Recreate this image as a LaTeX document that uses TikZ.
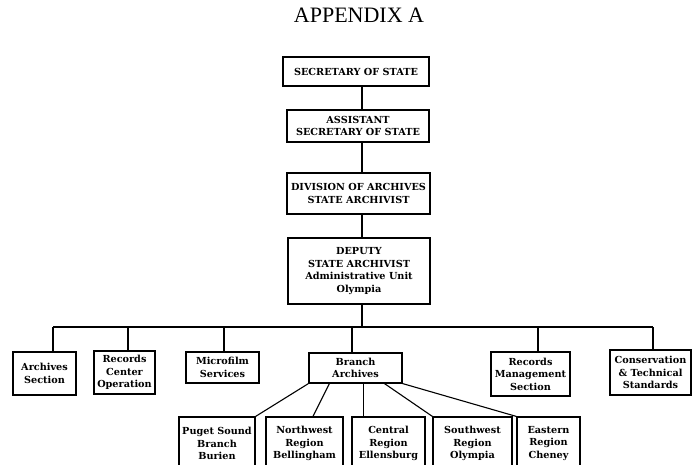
\documentclass[tikz,border=0pt]{standalone}
\usepackage{fontspec}
\setmainfont{DejaVu Serif}
\newfontfamily\titlefont{Liberation Serif}
\begin{document}
\begin{tikzpicture}[x=1pt, y=-1pt,
        orgbox/.style={draw, line width=1.1pt, inner sep=0pt, align=center,
            font=\bfseries\fontsize{9.7}{12.6}\selectfont},
        link/.style={line width=1.1pt}]
    \useasboundingbox (0,0) rectangle (695,464);
    \clip (0,0) rectangle (695,464);

    \node[font=\titlefont\fontsize{22}{26}\selectfont] (title) at (359,15.5) {APPENDIX A};

    \node[orgbox, minimum width=146pt, minimum height=29pt] (sec) at (356,71.5) {SECRETARY OF STATE};
    \node[orgbox, minimum width=142pt, minimum height=32pt] (asst) at (358,126) {ASSISTANT\\SECRETARY OF STATE};
    \node[orgbox, minimum width=143pt, minimum height=41pt] (div) at (358.5,193.5) {DIVISION OF ARCHIVES\\STATE ARCHIVIST};
    \node[orgbox, minimum width=142pt, minimum height=66pt] (deputy) at (359,271) {DEPUTY\\STATE ARCHIVIST\\Administrative Unit\\Olympia};

    \node[orgbox, minimum width=63pt, minimum height=43pt] (arch) at (44.5,373.5) {Archives\\Section};
    \node[orgbox, minimum width=61pt, minimum height=43pt] (rcenter) at (124.5,372.5) {Records\\Center\\Operation};
    \node[orgbox, minimum width=73pt, minimum height=31pt] (micro) at (222.5,367.5) {Microfilm\\Services};
    \node[orgbox, minimum width=93pt, minimum height=30pt] (branch) at (355.5,368) {Branch\\Archives};
    \node[orgbox, minimum width=79pt, minimum height=44pt] (rmgmt) at (530.5,374) {Records\\Management\\Section};
    \node[orgbox, minimum width=81pt, minimum height=45pt] (conserv) at (650.5,372.5) {Conservation\\\& Technical\\Standards};

    \node[orgbox, minimum width=76pt, minimum height=53pt] (puget) at (217,443.5) {Puget Sound\\Branch\\Burien};
    \node[orgbox, minimum width=77pt, minimum height=53pt] (nwest) at (304.5,443.5) {Northwest\\Region\\Bellingham};
    \node[orgbox, minimum width=73pt, minimum height=53pt] (central) at (388.5,443.5) {Central\\Region\\Ellensburg};
    \node[orgbox, minimum width=79pt, minimum height=53pt] (swest) at (472.5,443.5) {Southwest\\Region\\Olympia};
    \node[orgbox, minimum width=63pt, minimum height=53pt] (eastern) at (548.5,443.5) {Eastern\\Region\\Cheney};

    \coordinate (spine) at (362,0);
    \draw[link] (sec.south -| spine) -- (asst.north -| spine);
    \draw[link] (asst.south -| spine) -- (div.north -| spine);
    \draw[link] (div.south -| spine) -- (deputy.north -| spine);

    \foreach \n/\x in {arch/53, rcenter/128, micro/224, branch/352, rmgmt/538, conserv/653} {
        \coordinate (\n-bus) at (\x,327);
        \draw[link] (\n-bus) -- (\n-bus |- \n.north);
    }
    \draw[link] (arch-bus) -- (conserv-bus);
    \draw[link] (deputy.south -| spine) -- (spine |- arch-bus);

    \draw[link] (branch.south west) -- (puget.north east);
    \draw[link] ([xshift=21pt]branch.south west) -- ([xshift=8.5pt]nwest.north);
    \draw[link] ([xshift=55pt]branch.south west) -- ([xshift=12pt]central.north west);
    \draw[link] ([xshift=76pt]branch.south west) -- (swest.north west);
    \draw[link] (branch.south east) -- (eastern.north west);
\end{tikzpicture}
\end{document}
